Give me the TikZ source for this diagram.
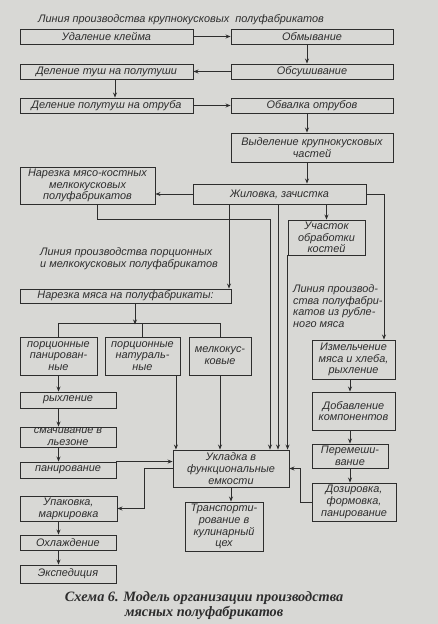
\documentclass[tikz,border=0pt]{standalone}
\usepackage{fontspec}
\setmainfont{Liberation Sans}
\newfontfamily\capfont{Liberation Serif}
\usetikzlibrary{arrows.meta}
\definecolor{paper}{RGB}{216,216,213}
\definecolor{ink}{RGB}{45,45,45}
\begin{document}
\begin{tikzpicture}[x=1pt,y=-1pt,
  bx/.style={draw=ink, line width=0.9pt, inner sep=0pt, align=center,
    font=\fontsize{10.9}{11.8}\selectfont\itshape, text=ink},
  sz/.style 2 args={minimum width=#1pt, minimum height=#2pt},
  lbl/.style={inner sep=0pt, align=left, font=\fontsize{10.9}{11.8}\selectfont\itshape, text=ink},
  con/.style={draw=ink, line width=0.9pt},
  arr/.style={con, -{Stealth[length=5pt,width=4pt]}}]
\fill[paper] (0,0) rectangle (438,624);
\useasboundingbox (0,0) rectangle (438,624);

% titles
\node[lbl, anchor=west] (line1) at (38,20) {Линия производства крупнокусковых\ \ полуфабрикатов};
\node[lbl, anchor=west] (line2) at (40,258.5) {Линия производства порционных\\и мелкокусковых полуфабрикатов};
\node[lbl, anchor=west] (line3) at (293,306) {Линия производ-\\ства полуфабри-\\катов из рубле-\\ного мяса};

% top line
\node[bx, sz={173}{15}] (udal) at (106.5,36.5) {Удаление клейма};
\node[bx, sz={162}{15}] (obmyv) at (312,36.5) {Обмывание};
\node[bx, sz={173}{15}] (delt) at (106.5,71.5) {Деление туш на полутуши};
\node[bx, sz={162}{15}] (obsush) at (312,71.5) {Обсушивание};
\node[bx, sz={173}{15}] (delp) at (106.5,105.5) {Деление полутуш на отруба};
\node[bx, sz={162}{15}] (obval) at (312,105.5) {Обвалка отрубов};
\node[bx, sz={162}{29}] (vyd) at (312,147.5) {Выделение крупнокусковых\\частей};
\node[bx, sz={173}{20}] (zhil) at (279.5,194) {Жиловка, зачистка};
\node[bx, sz={135}{37}] (narkost) at (87.5,185.5) {Нарезка мясо-костных\\мелкокусковых\\полуфабрикатов};
\node[bx, sz={77}{35}] (uch) at (326.5,237.5) {Участок\\обработки\\костей};

% portion line
\node[bx, sz={211}{14}] (narm) at (125.5,296) {Нарезка мяса на полуфабрикаты:};
\node[bx, sz={77}{38}] (pp) at (58.5,356) {порционные\\панирован-\\ные};
\node[bx, sz={75}{38}] (pn) at (142.5,356) {порционные\\натураль-\\ные};
\node[bx, sz={62}{38}] (mk) at (220,356) {мелкокус-\\ковые};
\node[bx, sz={96}{16}] (ryh) at (68,400) {рыхление};
\node[bx, sz={96}{20}] (smach) at (68,437) {смачивание в\\льезоне};
\node[bx, sz={96}{16}] (pan) at (68,470) {панирование};
\node[bx, sz={116}{37}] (ukl) at (231,468.5) {Укладка в\\функциональные\\емкости};
\node[bx, sz={97}{25}] (upak) at (68.5,508.5) {Упаковка,\\маркировка};
\node[bx, sz={96}{15}] (ohl) at (68,542.5) {Охлаждение};
\node[bx, sz={96}{18}] (eksp) at (68,574) {Экспедиция};
\node[bx, sz={78}{49}] (transp) at (224,526.5) {Транспорти-\\рование в\\кулинарный\\цех};

% minced line
\node[bx, sz={83}{39}] (izm) at (353.5,359.5) {Измельчение\\мяса и хлеба,\\рыхление};
\node[bx, sz={83}{38}] (dob) at (353.5,411) {Добавление\\компонентов};
\node[bx, sz={76}{24}] (per) at (350,456) {Перемеши-\\вание};
\node[bx, sz={84}{38}] (doz) at (354,502) {Дозировка,\\формовка,\\панирование};

% caption
\node[inner sep=0pt, align=center, text=ink, font={\fontsize{14.3}{15.5}\capfont\itshape\bfseries}] (cap) at (204,605.5) {Схема 6. Модель организации производства\\мясных полуфабрикатов};

% connectors
\draw[arr] (udal.east) -- (obmyv.west);
\draw[arr] ([xshift=-5pt]obmyv.south) -- ([xshift=-5pt]obsush.north);
\draw[arr] (obsush.west) -- (delt.east);
\draw[arr] ([xshift=8.5pt]delt.south) -- ([xshift=8.5pt]delp.north);
\draw[arr] (delp.east) -- (obval.west);
\draw[arr] ([xshift=-5pt]obval.south) -- ([xshift=-5pt]vyd.north);
\draw[arr] ([xshift=-5pt]vyd.south) -- ([xshift=-5pt]vyd.south |- zhil.north);
\draw[arr] (zhil.west) -- (zhil.west -| narkost.east);
\draw[arr] ([xshift=9.5pt]narkost.south) -- ++(0,15) -| ([xshift=39pt]ukl.north);
\draw[arr] ([xshift=-50.5pt]zhil.south) -- ([xshift=-50.5pt]zhil.south |- narm.north);
\draw[arr] ([xshift=47pt]ukl.north |- zhil.south) -- ([xshift=47pt]ukl.north);
\draw[arr] (uch.north |- zhil.south) -- (uch.north);
\draw[arr] (uch.south west) -- (uch.south west |- ukl.north);
\draw[arr] (zhil.east) -| ([xshift=30.5pt]izm.north);

\draw[arr] ([xshift=9.5pt]narm.south) -- ++(0,21);
\draw[con] (pp.north) -- ++(0,-13) -| (mk.north);
\draw[con] (pn.north) -- ++(0,-13);
\draw[arr] (pp.south) -- (pp.south |- ryh.north);
\draw[arr] (ryh.south -| pp.south) -- (smach.north -| pp.south);
\draw[arr] (smach.south -| pp.south) -- (pan.north -| pp.south);
\draw[arr] (pan.north east) -- (pan.north east -| ukl.west);
\draw[arr] ([xshift=-4.5pt]pn.south east) -- ([xshift=-4.5pt]pn.south east |- ukl.north);
\draw[arr] (mk.south) -- (mk.south |- ukl.north);
\draw[arr] (ukl.west) -- ++(-28,0) |- (upak.east);
\draw[arr] (ukl.south) -- (ukl.south |- transp.north);
\draw[arr] (upak.south -| pp.south) -- (ohl.north -| pp.south);
\draw[arr] (ohl.south -| pp.south) -- (eksp.north -| pp.south);

\draw[arr] (izm.south -| per.north) -- (dob.north -| per.north);
\draw[arr] (dob.south -| per.north) -- (per.north);
\draw[arr] (per.south) -- (per.south |- doz.north);
\draw[arr] (doz.west) -- ++(-11,0) |- (ukl.east);
\end{tikzpicture}
\end{document}
